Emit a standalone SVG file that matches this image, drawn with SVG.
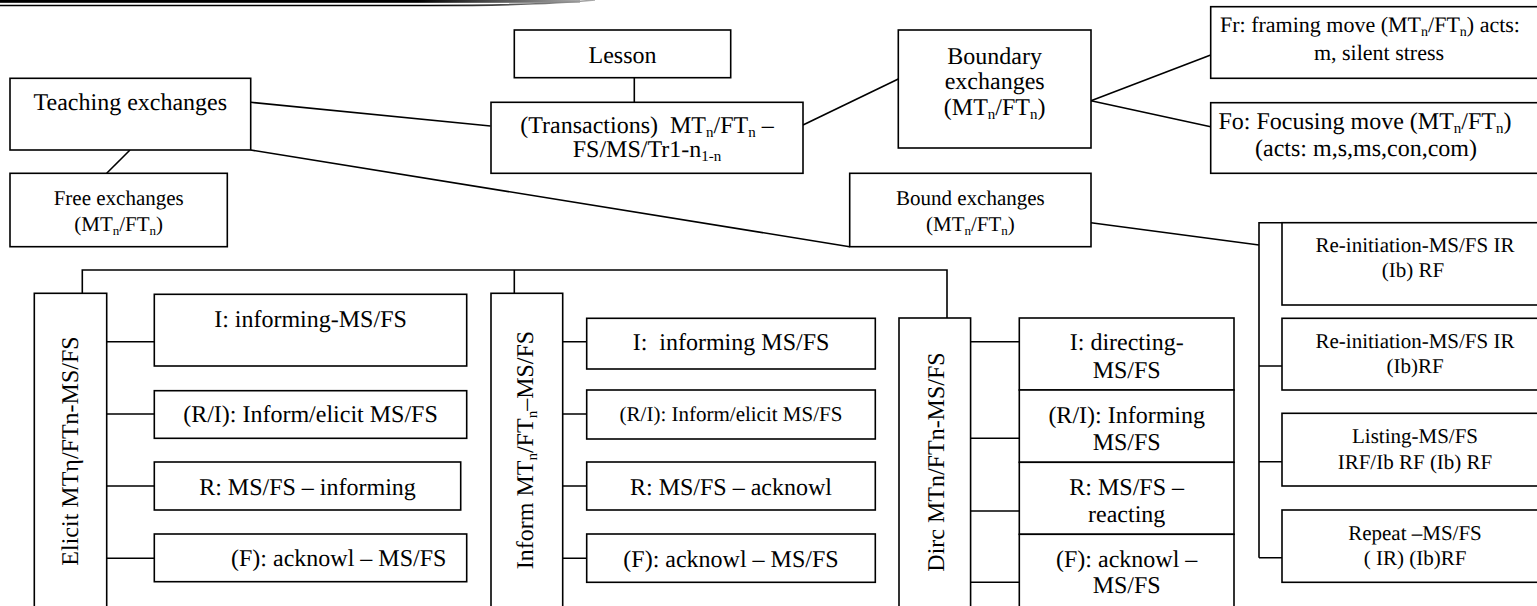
<svg xmlns="http://www.w3.org/2000/svg" width="1537" height="606" viewBox="0 0 1537 606" font-family="'Liberation Serif', 'Times New Roman', serif">
  <defs>
    <linearGradient id="rule-fade" x1="0" y1="0" x2="1" y2="0">
      <stop offset="0" stop-color="#000"/>
      <stop offset="0.72" stop-color="#000"/>
      <stop offset="1" stop-color="#aaa"/>
    </linearGradient>
    <style>
      .box{fill:#fff;stroke:#000;stroke-width:1.6}
      .ln{fill:none;stroke:#000;stroke-width:1.6}
      text{font-family:"Liberation Serif","Times New Roman",serif;fill:#000;font-size:24px;text-anchor:middle;text-rendering:geometricPrecision}
      .s21{font-size:21px}
      .s22{font-size:22px}
      .pre{white-space:pre}
      .st{text-anchor:start}
    </style>
  </defs>
  <rect width="1537" height="606" fill="#fff"/>

  <!-- page header rule -->
  <g id="header-rule">
    <rect x="0" y="0" width="580" height="2.8" fill="url(#rule-fade)"/>
    <path d="M0,5.5 H430 C500,5.5 560,3.5 595,0" fill="none" stroke="url(#rule-fade)" stroke-width="1.6"/>
  </g>

  <!-- connectors -->
  <g id="connectors" class="ln">
    <path d="M250.7,102.3 L490.5,126"/>
    <path d="M250.7,150 L849.7,246.7"/>
    <path d="M130,150 L106.7,173.3"/>
    <path d="M634.3,77.7 V102.3"/>
    <path d="M803,125 L898.3,79"/>
    <path d="M1091,100.7 L1210.7,55"/>
    <path d="M1091,100.7 L1210.7,126.7"/>
    <path d="M1091,222.7 L1259,245"/>
    <path d="M1282,222.7 H1259 V557.7"/>
    <path d="M1259,366 H1282 M1259,461.7 H1282 M1259,557.7 H1282"/>
    <path d="M82.3,293.3 V270 H947 V318"/>
    <path d="M514.3,270 V293.3"/>
    <path d="M106.7,341.7 H154.3 M106.7,414 H154.3 M106.7,486 H154.3 M106.7,558.3 H154.3"/>
    <path d="M562.7,341.7 H586.7 M562.7,414 H586.7 M562.7,486 H586.7 M562.7,558.3 H586.7"/>
    <path d="M970.6,341.7 H1019.3 M970.6,438.3 H1019.3 M970.6,511 H1019.3 M970.6,582.3 H1019.3"/>
  </g>

  <!-- upper tree -->
  <g id="lesson">
    <rect class="box" x="514.3" y="30" width="216.4" height="47.7"/>
    <text x="622.5" y="63">Lesson</text>
  </g>
  <g id="teaching">
    <rect class="box" x="10" y="78.3" width="240.7" height="71.7"/>
    <text x="130.3" y="110">Teaching exchanges</text>
  </g>
  <g id="transactions">
    <rect class="box" x="491" y="102.3" width="312" height="71"/>
    <text class="pre" x="647" y="133">(Transactions)  MT<tspan font-size="15" dy="4">n</tspan><tspan dy="-4">/FT</tspan><tspan font-size="15" dy="4">n</tspan><tspan dy="-4"> –</tspan></text>
    <text x="647" y="157">FS/MS/Tr1-n<tspan font-size="15" dy="4">1-n</tspan></text>
  </g>
  <g id="boundary">
    <rect class="box" x="898.3" y="30" width="192.7" height="118"/>
    <text x="994.7" y="64">Boundary</text>
    <text x="994.7" y="89">exchanges</text>
    <text x="994.7" y="115">(MT<tspan font-size="15" dy="4">n</tspan><tspan dy="-4">/FT</tspan><tspan font-size="15" dy="4">n</tspan><tspan dy="-4">)</tspan></text>
  </g>
  <g id="framing-move">
    <rect class="box" x="1210.7" y="6.7" width="340" height="71.6"/>
    <text class="s22" x="1370" y="32">Fr: framing move (MT<tspan font-size="14" dy="4">n</tspan><tspan dy="-4">/FT</tspan><tspan font-size="14" dy="4">n</tspan><tspan dy="-4">) acts:</tspan></text>
    <text class="s22" x="1379" y="60">m, silent stress</text>
  </g>
  <g id="focusing-move">
    <rect class="box" x="1210.7" y="102.7" width="340" height="70.6"/>
    <text x="1365" y="129">Fo: Focusing move (MT<tspan font-size="15" dy="4">n</tspan><tspan dy="-4">/FT</tspan><tspan font-size="15" dy="4">n</tspan><tspan dy="-4">)</tspan></text>
    <text x="1366" y="156">(acts: m,s,ms,con,com)</text>
  </g>
  <g id="free">
    <rect class="box" x="10" y="173.3" width="217.3" height="73.4"/>
    <text class="s21" x="118.7" y="205">Free exchanges</text>
    <text class="s21" x="118.7" y="231">(MT<tspan font-size="13" dy="4">n</tspan><tspan dy="-4">/FT</tspan><tspan font-size="13" dy="4">n</tspan><tspan dy="-4">)</tspan></text>
  </g>
  <g id="bound">
    <rect class="box" x="849.7" y="173.3" width="241.3" height="73.4"/>
    <text class="s21" x="970.4" y="205">Bound exchanges</text>
    <text class="s21" x="970.4" y="231">(MT<tspan font-size="13" dy="4">n</tspan><tspan dy="-4">/FT</tspan><tspan font-size="13" dy="4">n</tspan><tspan dy="-4">)</tspan></text>
  </g>

  <!-- bound exchange types -->
  <g id="reinit-1">
    <rect class="box" x="1282" y="222.7" width="268" height="82.3"/>
    <text class="s21" x="1415" y="251.7">Re-initiation-MS/FS IR</text>
    <text class="s21" x="1413" y="277.3">(Ib) RF</text>
  </g>
  <g id="reinit-2">
    <rect class="box" x="1282" y="318.3" width="268" height="71.7"/>
    <text class="s21" x="1415" y="348.3">Re-initiation-MS/FS IR</text>
    <text class="s21" x="1415" y="373.3">(Ib)RF</text>
  </g>
  <g id="listing">
    <rect class="box" x="1282" y="413.3" width="268" height="72.7"/>
    <text class="s21" x="1415" y="443.3">Listing-MS/FS</text>
    <text class="s21" x="1415" y="469.3">IRF/Ib RF (Ib) RF</text>
  </g>
  <g id="repeat">
    <rect class="box" x="1282" y="510" width="268" height="72.3"/>
    <text class="s21" x="1415" y="540">Repeat –MS/FS</text>
    <text class="s21 pre" x="1415" y="565">( IR) (Ib)RF</text>
  </g>

  <!-- elicit column -->
  <g id="elicit">
    <rect class="box" x="34.3" y="293.3" width="72.4" height="330"/>
    <text transform="translate(78,451) rotate(-90)">Elicit MTη/FTn-MS/FS</text>
  </g>
  <g id="elicit-i">
    <rect class="box" x="154.3" y="294.3" width="312.4" height="71.7"/>
    <text x="310.5" y="326.7">I: informing-MS/FS</text>
  </g>
  <g id="elicit-ri">
    <rect class="box" x="154.3" y="390.7" width="312.4" height="47.6"/>
    <text x="310.5" y="421.7">(R/I): Inform/elicit MS/FS</text>
  </g>
  <g id="elicit-r">
    <rect class="box" x="154.3" y="462" width="306.4" height="48"/>
    <text x="307.5" y="495">R: MS/FS – informing</text>
  </g>
  <g id="elicit-f">
    <rect class="box" x="154.3" y="534" width="312.4" height="47.7"/>
    <text class="st" x="231" y="566">(F): acknowl – MS/FS</text>
  </g>

  <!-- inform column -->
  <g id="inform">
    <rect class="box" x="491" y="293.3" width="71.7" height="330"/>
    <text transform="translate(533,450) rotate(-90)">Inform MT<tspan font-size="15" dy="4">n</tspan><tspan dy="-4">/FT</tspan><tspan font-size="15" dy="4">n</tspan><tspan dy="-4">–MS/FS</tspan></text>
  </g>
  <g id="inform-i">
    <rect class="box" x="586.7" y="318.3" width="288.6" height="50.7"/>
    <text class="pre" x="731" y="350">I:  informing MS/FS</text>
  </g>
  <g id="inform-ri">
    <rect class="box" x="586.7" y="390" width="288.6" height="49"/>
    <text class="s21" x="731" y="420.7">(R/I): Inform/elicit MS/FS</text>
  </g>
  <g id="inform-r">
    <rect class="box" x="586.7" y="462" width="288.6" height="48"/>
    <text x="731" y="495">R: MS/FS – acknowl</text>
  </g>
  <g id="inform-f">
    <rect class="box" x="586.7" y="534" width="288.6" height="48.3"/>
    <text x="731" y="566.7">(F): acknowl – MS/FS</text>
  </g>

  <!-- directing column -->
  <g id="dirc">
    <rect class="box" x="899" y="318" width="71.6" height="300"/>
    <text transform="translate(944,462) rotate(-90)">Dirc MTn/FTn-MS/FS</text>
  </g>
  <g id="dirc-i">
    <rect class="box" x="1019.3" y="318" width="214.7" height="72"/>
    <text x="1126.7" y="350">I: directing-</text>
    <text x="1126.7" y="378.3">MS/FS</text>
  </g>
  <g id="dirc-ri">
    <rect class="box" x="1019.3" y="390" width="214.7" height="72.3"/>
    <text x="1126.7" y="423.3">(R/I): Informing</text>
    <text x="1126.7" y="450">MS/FS</text>
  </g>
  <g id="dirc-r">
    <rect class="box" x="1019.3" y="462.3" width="214.7" height="72"/>
    <text x="1126.7" y="495">R: MS/FS –</text>
    <text x="1126.7" y="521.7">reacting</text>
  </g>
  <g id="dirc-f">
    <rect class="box" x="1019.3" y="534.3" width="214.7" height="80"/>
    <text x="1126.7" y="566.7">(F): acknowl –</text>
    <text x="1126.7" y="593.3">MS/FS</text>
  </g>
</svg>
